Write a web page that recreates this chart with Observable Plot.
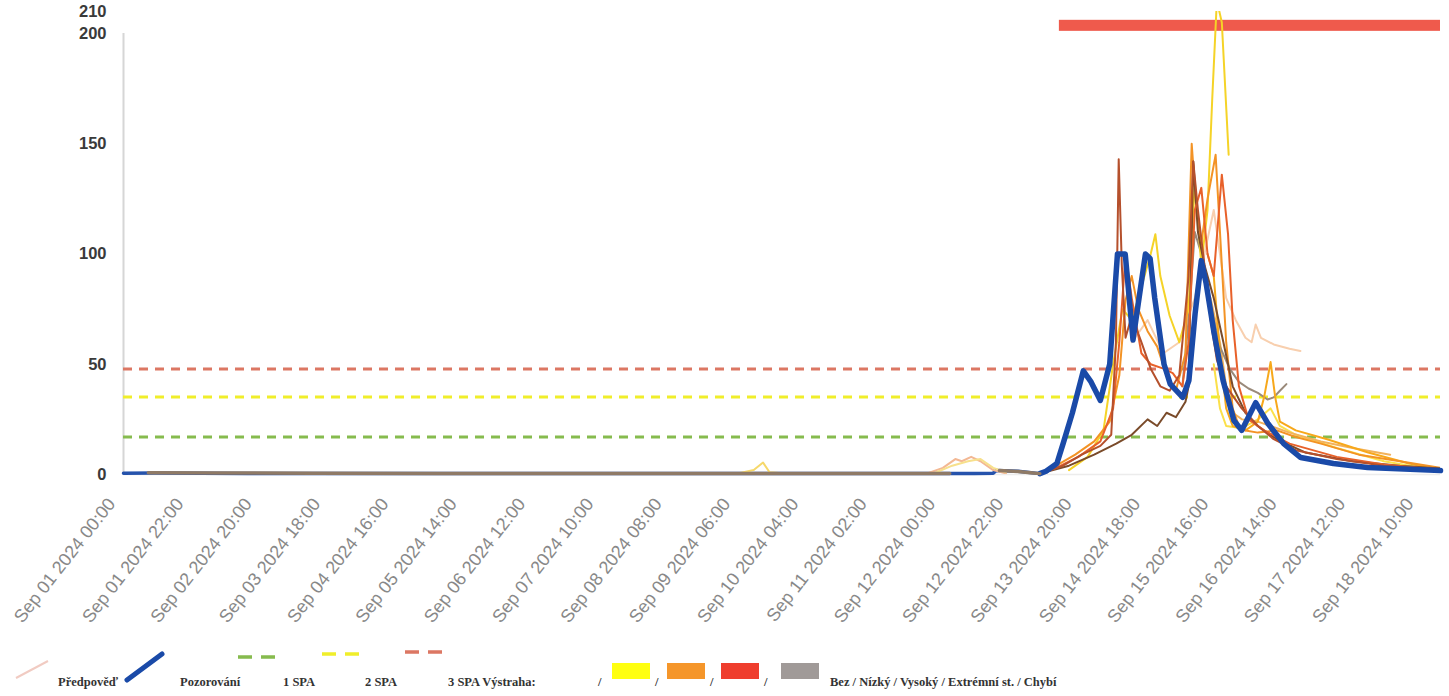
<!DOCTYPE html>
<html><head><meta charset="utf-8">
<script src="https://cdn.jsdelivr.net/npm/d3@7"></script>
<script src="https://cdn.jsdelivr.net/npm/@observablehq/plot@0.6"></script>
<style>
body{margin:0;background:#fff;font-family:"Liberation Sans",Arial,sans-serif;}
#legend{position:relative;width:1449px;height:48px;}
</style></head><body>
<div id="chart"></div>
<div id="legend"></div>
<script>
// ---- data (hours since Sep 01 2024 00:00, value) ----
const startUTC = Date.UTC(2024, 8, 1, 0, 0);
const endHour = 424;
const yTicks = [0, 50, 100, 150, 200, 210];
const xTickHours = d3.range(0, 419, 22);
const spaNames = ["1 SPA", "2 SPA", "3 SPA"];
const spaValues = [17, 35.2, 47.8];
const warningPeriods = [[301.3, 424]];

const observed = [[0,0.6],[10,0.7],[40,0.5],[122,0.5],[203,0.4],[266,0.4],[274,0.5],[280,0.6],[281,1.8],[288,1.5],[295,0.4],
  [297,1.5],[300.5,5],[302.5,14],[305.5,28],[309,47],[311.5,42],[314.5,33.6],[317.5,50],[320,100],[322.5,100],[325,61],
  [329,100],[330.5,98],[332,80],[335,50],[337,41],[341,35],[343,42.6],[345,73],[347,97],[348.5,87],[351,65],[354,42.6],
  [357.5,24.5],[360,20],[364.5,32.6],[368.5,23],[373.5,14],[379,7.7],[389.5,5],[400.5,3.2],[424,1.8]];

const nearZeroForecastA = [[8,0.8],[30,0.7],[61,0.6],[101,0.5],[152,0.4],[203,0.5],[243,0.4],[266,0.4]];
const nearZeroForecastB = [[282,1.8],[288,1.4],[292,0.8],[295,0.4]];

const forecast1 = [[295,0.5],[302.5,4],[308.5,9],[314.5,13],[318,18],[319.5,60],[320.4,143],[321.4,95],[322.6,62],[324.6,72],
  [327.7,60],[330.7,48],[333.8,40],[336.8,38],[339.9,45],[342.9,90],[344.4,142],[345.9,120],[348,95],[350,70],[352,52],
  [355,40],[360,30],[365.2,22],[370.3,16],[377.4,11],[390.6,7],[405.8,4],[424,2.5]];
const forecast2 = [[304.4,2],[310.4,8],[315.5,20],[318.6,50],[321.6,75],[324.6,70],[327.7,85],[330.7,100],[332.2,109],
  [333.8,90],[336.8,72],[339.9,60],[342.9,75],[344.9,133],[347,95],[349,120],[350.5,170],[352,215],[353.6,205],[355.8,145]];
const forecast3 = [[295.2,0.5],[300.3,4],[306.4,9],[312.5,15],[317.5,24],[320.6,45],[322.6,79],[324.6,90],[326.7,75],
  [329.7,65],[332.8,58],[335.8,45],[338.8,38],[341.9,55],[343.9,150],[345.4,120],[347,105],[349,125],[351.6,145],[353,110],
  [355,60],[357.1,30],[359.1,22],[361.2,20],[365.2,19],[371.3,20],[377.4,17],[385.5,14],[397.7,9],[410.9,6],[424,3]];
const forecast4 = [[295.2,0.5],[304.4,4],[312.5,9],[319.6,14],[324.6,18],[329.7,25],[332.8,22],[335.8,28],[338.8,26],
  [341.9,33],[342.9,40],[344.4,142],[345.9,110],[348,95],[351,80],[354.1,60],[357.1,40],[361.2,28],[365.2,22],[371.3,16],
  [380.4,10],[395.7,6],[410.9,4],[424,2.7]];
const forecast5 = [[324.6,60],[329.7,70],[334.8,55],[339.9,60],[344.9,80],[348,100],[351,120],[353,100],[355,80],[358.1,70],
  [361.2,62],[363.2,60],[364.5,68],[366.2,62],[370.3,59],[375.4,57],[378.9,56]];
const forecast6 = [[350,80],[353,60],[355,40],[357.1,28],[360.1,25],[365.2,24],[369.3,22],[375.4,19],[385.5,15],[395.7,12],
  [407.8,9]];
const forecast7 = [[349,100],[351,90],[353,55],[355,30],[357.1,22],[361.2,20],[365.2,24],[367.2,35],[369.3,51],[370.8,35],
  [372.3,24],[377.4,20],[387.5,16],[400.7,10],[413.9,5],[424,2]];
const forecast8 = [[295.2,0.5],[300.3,3],[307.4,8],[314.5,15],[318.6,30],[320.6,60],[322.6,100],[324.6,80],[327.7,55],
  [330.7,50],[334.8,48],[337.8,46],[340.9,40],[342.9,60],[344.9,120],[347,130],[349,100],[351,90],[353.6,136],[355.6,109],
  [357.1,70],[359.1,40],[362.2,25],[367.2,20],[375.4,14],[390.6,8],[405.8,4.5],[424,2]];
const forecast9 = [[351,50],[353,30],[355,22],[360.1,21],[365.2,25],[369.3,30],[372.3,22],[377.4,18],[390.6,12],[405.8,6],
  [424,1.5]];
const forecast10 = [[340.9,40],[342.9,70],[344.9,110],[347,100],[349,85],[351,70],[353,58],[356.1,48],[359.1,42],[362.2,39],
  [365.2,37],[368.3,34],[370.3,35],[372.3,38],[374.4,41]];
const forecast11 = [[197.8,0.5],[202.9,2],[205.9,5.4],[208,1],[213,0.5]];
const forecast12 = [[258.7,0.5],[263.8,3],[267.8,7],[269.9,6],[272.9,8],[275.9,6],[280,2],[284.1,0.5]];
const forecast13 = [[261.7,1],[266.8,4],[271.9,6],[275.9,7],[280,3],[284.1,1]];

const forecastSeries = [forecast11, forecast12, forecast13, forecast9, forecast6, forecast5, forecast10, forecast2,
  forecast7, forecast3, forecast4, forecast8, forecast1];
const forecastColors = ["#f6d86a", "#f3b894", "#f7e08c", "#fbe04a", "#f2b25c", "#f8cfae", "#9a8a7a", "#f5d327",
  "#f7a81b", "#f39325", "#7a4b2a", "#e8612a", "#b5502c"];

// ---- helpers ----
const toDate = h => new Date(startUTC + h * 3600e3);
const X = d => toDate(d[0]);
const Y = d => d[1];

const W = 1449, H = 648;
const marks = [
  Plot.ruleY([0], {stroke: "#ececec", strokeWidth: 1.5}),
  Plot.ruleX([0], {x: d => toDate(d), y1: 0, y2: 200, stroke: "#d6d6d6", strokeWidth: 2}),
  Plot.ruleY([spaValues[0]], {stroke: "#86bb4e", strokeWidth: 3, strokeDasharray: "9,7"}),
  Plot.ruleY([spaValues[1]], {stroke: "#f0ee2a", strokeWidth: 3, strokeDasharray: "9,7"}),
  Plot.ruleY([spaValues[2]], {stroke: "#dc7763", strokeWidth: 3, strokeDasharray: "9,7"}),
  Plot.rect(warningPeriods, {x1: d => toDate(d[0]), x2: d => toDate(d[1]), y1: 201, y2: 206, fill: "#ef5a4c"}),
  Plot.line(observed, {x: X, y: Y, stroke: "#1a4aa8", strokeWidth: 3.5, strokeOpacity: 0.95})
];
forecastSeries.forEach((s, i) => {
  marks.push(Plot.line(s, {x: X, y: Y, stroke: forecastColors[i], strokeWidth: 2, clip: true}));
});
marks.push(Plot.line(observed.filter(d => d[0] >= 294), {x: X, y: Y, stroke: "#1a4aa8", strokeWidth: 5.5, strokeLinejoin: "round"}));
marks.push(Plot.line(nearZeroForecastA, {x: X, y: Y, stroke: "#8f7a66", strokeWidth: 3.5}));
marks.push(Plot.line(nearZeroForecastB, {x: X, y: Y, stroke: "#8f7a66", strokeWidth: 3.5}));
marks.push(Plot.axisY(yTicks, {tickSize: 0, tickPadding: 17, fontSize: 16.5, fontWeight: "bold", fill: "#3a3a3a"}));
marks.push(Plot.axisX(xTickHours.map(toDate), {tickSize: 0, tickPadding: 26, tickRotate: -52, fontSize: 18,
  dx: -12, fill: "#888", tickFormat: d3.utcFormat("%b %d %Y %H:%M")}));

const chart = Plot.plot({
  width: W, height: H,
  marginLeft: 123, marginRight: 9, marginTop: 11, marginBottom: H - 474,
  x: {type: "utc", domain: [toDate(0), toDate(endHour)]},
  y: {domain: [0, 210]},
  style: {fontFamily: "'Liberation Sans', Arial, sans-serif", background: "#fff"},
  marks
});
document.getElementById("chart").appendChild(chart);

// ---- legend ----
const lg = d3.select("#legend").append("svg").attr("width", W).attr("height", 48);
const serif = "'Liberation Serif', 'Times New Roman', serif";
function txt(x, s) {
  lg.append("text").attr("x", x).attr("y", 38).attr("font-family", serif).attr("font-size", 12.5)
    .attr("font-weight", "bold").attr("fill", "#333").text(s);
}
lg.append("line").attr("x1", 16).attr("y1", 30).attr("x2", 48).attr("y2", 13).attr("stroke", "#f1cbc2").attr("stroke-width", 2);
txt(58, "Předpověď");
lg.append("line").attr("x1", 127).attr("y1", 32).attr("x2", 162).attr("y2", 6).attr("stroke", "#1a4aa8").attr("stroke-width", 5).attr("stroke-linecap", "round");
txt(180, "Pozorování");
[[238, 9, "#86bb4e", "1 SPA", 283], [322, 6, "#f0ee2a", "2 SPA", 365], [405, 4, "#dc7763", "3 SPA Výstraha:", 448]].forEach(([x, y, c, t, tx]) => {
  lg.append("line").attr("x1", x).attr("y1", y).attr("x2", x + 38).attr("y2", y).attr("stroke", c).attr("stroke-width", 3.5).attr("stroke-dasharray", "14,9");
  txt(tx, t);
});
txt(598, "/");
[[612, "#ffff10"], [667, "#f5962a"], [721, "#ef3e2e"], [781, "#a09a98"]].forEach(([x, c], i) => {
  lg.append("rect").attr("x", x).attr("y", 15).attr("width", 38).attr("height", 16).attr("fill", c);
  if (i < 3) txt(x + 43, "/");
});
txt(830, "Bez / Nízký / Vysoký / Extrémní st. / Chybí");
</script>
</body></html>
